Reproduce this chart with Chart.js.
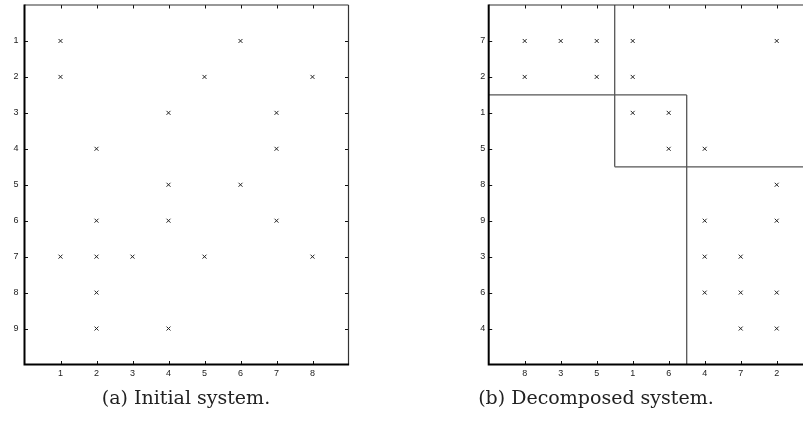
<!DOCTYPE html>
<html>
<head>
<meta charset="utf-8">
<script src="https://cdn.jsdelivr.net/npm/chart.js@4"></script>
<style>
  html, body { margin: 0; padding: 0; background: #fff; }
  body { width: 803px; height: 421px; overflow: hidden; position: relative; }
  canvas { position: absolute; top: 0; }
  .cap { position: absolute; width: 320px; text-align: center; font-family: "DejaVu Serif", serif;
         font-size: 19px; line-height: 22px; color: #222; white-space: nowrap; }
</style>
</head>
<body>
<canvas id="chartA" width="400" height="421" style="left:0px"></canvas>
<canvas id="chartB" width="400" height="421" style="left:440px"></canvas>
<div class="cap" style="left:26px; top:386px;">(a) Initial system.</div>
<div class="cap" style="left:436px; top:386px;">(b) Decomposed system.</div>
<script>
// ---- Data ----
// (a) Initial system: column labels, row labels, nonzero entries [col, row]
const initialColLabels = ['1', '2', '3', '4', '5', '6', '7', '8'];
const initialRowLabels = ['1', '2', '3', '4', '5', '6', '7', '8', '9'];
const initialEntries = [
  [1, 1], [6, 1],
  [1, 2], [5, 2], [8, 2],
  [4, 3], [7, 3],
  [2, 4], [7, 4],
  [4, 5], [6, 5],
  [2, 6], [4, 6], [7, 6],
  [1, 7], [2, 7], [3, 7], [5, 7], [8, 7],
  [2, 8],
  [2, 9], [4, 9]
];

// (b) Decomposed system: permuted column / row labels, entries at [column position, row position]
const decomposedColLabels = ['8', '3', '5', '1', '6', '4', '7', '2'];
const decomposedRowLabels = ['7', '2', '1', '5', '8', '9', '3', '6', '4'];
const decomposedEntries = [
  [1, 1], [2, 1], [3, 1], [4, 1], [8, 1],
  [1, 2], [3, 2], [4, 2],
  [4, 3], [5, 3],
  [5, 4], [6, 4],
  [8, 5],
  [6, 6], [8, 6],
  [6, 7], [7, 7],
  [6, 8], [7, 8], [8, 8],
  [7, 9], [8, 9]
];
// block partition lines: [x1, y1, x2, y2] in position units
const blockLines = [
  [0, 2.5, 5.5, 2.5],
  [3.5, 0, 3.5, 4.5],
  [3.5, 4.5, 9, 4.5],
  [5.5, 2.5, 5.5, 10]
];

// ---- Helpers ----
const frameAndTicks = {
  id: 'frameAndTicks',
  afterDatasetsDraw(chart) {
    const { ctx, chartArea: a, scales } = chart;
    const xs = scales.x, ys = scales.y;
    ctx.save();
    ctx.strokeStyle = '#111';
    ctx.lineWidth = 1;
    ctx.beginPath();
    xs.ticks.forEach(t => {
      const px = Math.round(xs.getPixelForValue(t.value)) + 0.5;
      ctx.moveTo(px, a.bottom); ctx.lineTo(px, a.bottom - 3.5);
      ctx.moveTo(px, a.top); ctx.lineTo(px, a.top + 3.5);
    });
    ys.ticks.forEach(t => {
      const py = Math.round(ys.getPixelForValue(t.value)) + 0.5;
      ctx.moveTo(a.left, py); ctx.lineTo(a.left + 3.5, py);
      ctx.moveTo(a.right, py); ctx.lineTo(a.right - 3.5, py);
    });
    ctx.stroke();
    // top & right thin borders
    ctx.strokeStyle = '#333';
    ctx.lineWidth = 1.2;
    ctx.beginPath();
    ctx.moveTo(a.left, a.top); ctx.lineTo(a.right, a.top);
    ctx.moveTo(a.right, a.top); ctx.lineTo(a.right, a.bottom);
    ctx.stroke();
    // left & bottom thick axes
    ctx.strokeStyle = '#000';
    ctx.lineWidth = 2;
    ctx.beginPath();
    ctx.moveTo(a.left, a.top - 0.6); ctx.lineTo(a.left, a.bottom);
    ctx.lineTo(a.right + 0.6, a.bottom);
    ctx.stroke();
    ctx.restore();
  }
};

function makeChart(id, entries, colLabels, rowLabels, lines, plotLeft, plotRight, canvasW, yPad) {
  const datasets = [{
    data: entries.map(e => ({ x: e[0], y: e[1] })),
    pointStyle: 'crossRot',
    pointRadius: 2.8,
    pointHoverRadius: 2.8,
    borderColor: '#222',
    backgroundColor: 'rgba(0,0,0,0)',
    borderWidth: 1
  }];
  lines.forEach(l => datasets.push({
    data: [{ x: l[0], y: l[1] }, { x: l[2], y: l[3] }],
    showLine: true,
    pointRadius: 0,
    borderColor: '#555',
    borderWidth: 1.3,
    fill: false
  }));
  const tickFont = { family: '"Liberation Sans", Arial, sans-serif', size: 9 };
  return new Chart(document.getElementById(id), {
    type: 'scatter',
    data: { datasets },
    options: {
      responsive: false,
      animation: false,
      events: [],
      layout: { padding: { top: 5, left: 0, right: canvasW - plotRight, bottom: 421 - 364.5 - 20 } },
      plugins: { legend: { display: false }, tooltip: { enabled: false } },
      scales: {
        x: {
          type: 'linear', min: 0, max: 9, position: 'bottom',
          grid: { display: false, drawTicks: false }, border: { display: false },
          afterBuildTicks: s => { s.ticks = colLabels.map((_, i) => ({ value: i + 1 })); },
          ticks: { font: tickFont, color: '#222', padding: 4, maxRotation: 0, autoSkip: false,
                   callback: v => colLabels[v - 1] },
          afterFit: s => { s.height = 20; s.paddingLeft = 0; s.paddingRight = 0; }
        },
        y: {
          type: 'linear', min: 0, max: 10, reverse: true,
          grid: { display: false, drawTicks: false }, border: { display: false },
          afterBuildTicks: s => { s.ticks = rowLabels.map((_, i) => ({ value: i + 1 })); },
          ticks: { font: tickFont, color: '#222', padding: yPad, autoSkip: false,
                   callback: v => rowLabels[v - 1] },
          afterFit: s => { s.width = plotLeft; s.paddingTop = 0; s.paddingBottom = 0; }
        }
      }
    },
    plugins: [frameAndTicks]
  });
}

makeChart('chartA', initialEntries, initialColLabels, initialRowLabels, [], 24.5, 348.5, 400, 6);
makeChart('chartB', decomposedEntries, decomposedColLabels, decomposedRowLabels, blockLines, 48.7, 372.7, 400, 3.5);
</script>
</body>
</html>
